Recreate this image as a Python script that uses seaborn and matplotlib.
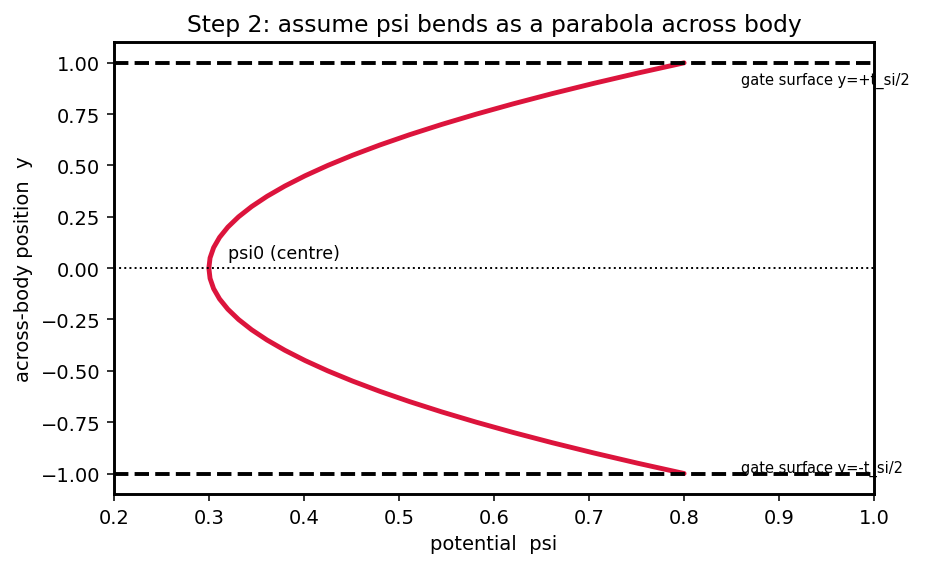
import seaborn as sns
import pandas as pd
import matplotlib.pyplot as plt

sns.set_style("ticks", rc={"axes.edgecolor": "black", "text.color": "black",
                           "axes.labelcolor": "black", "xtick.color": "black",
                           "ytick.color": "black"})
plt.rcParams['font.family'] = ['DejaVu Sans']

# position across body (upper half) and potential
y_half = [0.0, 0.05, 0.1, 0.15, 0.2, 0.25, 0.3, 0.35, 0.4, 0.45, 0.5,
          0.55, 0.6, 0.65, 0.7, 0.75, 0.8, 0.85, 0.9, 0.95, 1.0]
psi_half = [0.3, 0.30125, 0.305, 0.31125, 0.32, 0.33125, 0.345, 0.36125, 0.38,
            0.40125, 0.425, 0.45125, 0.48, 0.51125, 0.545, 0.58125, 0.62,
            0.66125, 0.705, 0.75125, 0.8]
gate_y = [1.0, -1.0]

y_pos = [-v for v in y_half[::-1]] + y_half[1:]
psi = psi_half[::-1] + psi_half[1:]
df = pd.DataFrame({"psi": psi, "y": y_pos})

fig, ax = plt.subplots(figsize=(6.664, 4.064), dpi=140)
sns.lineplot(data=df, x="psi", y="y", sort=False, estimator=None,
             color="crimson", lw=2.5, ax=ax)
for g in gate_y:
    ax.axhline(g, color="black", ls="--", lw=2)
ax.axhline(0, color="black", ls=":", lw=1)

ax.text(0.32, 0.05, "psi0 (centre)", fontsize=9)
ax.text(0.86, 0.9, "gate surface y=+t_si/2", fontsize=7.5, clip_on=False)
ax.text(0.86, -0.99, "gate surface y=-t_si/2", fontsize=7.5, clip_on=False)

ax.set_xlim(0.2, 1.0)
ax.set_ylim(-1.1, 1.1)
ax.set_xlabel("potential  psi")
ax.set_ylabel("across-body position  y")
ax.set_title("Step 2: assume psi bends as a parabola across body")
for s in ax.spines.values():
    s.set_linewidth(1.5)
fig.subplots_adjust(left=0.122, right=0.937, top=0.924, bottom=0.130)
plt.savefig("out.png")
